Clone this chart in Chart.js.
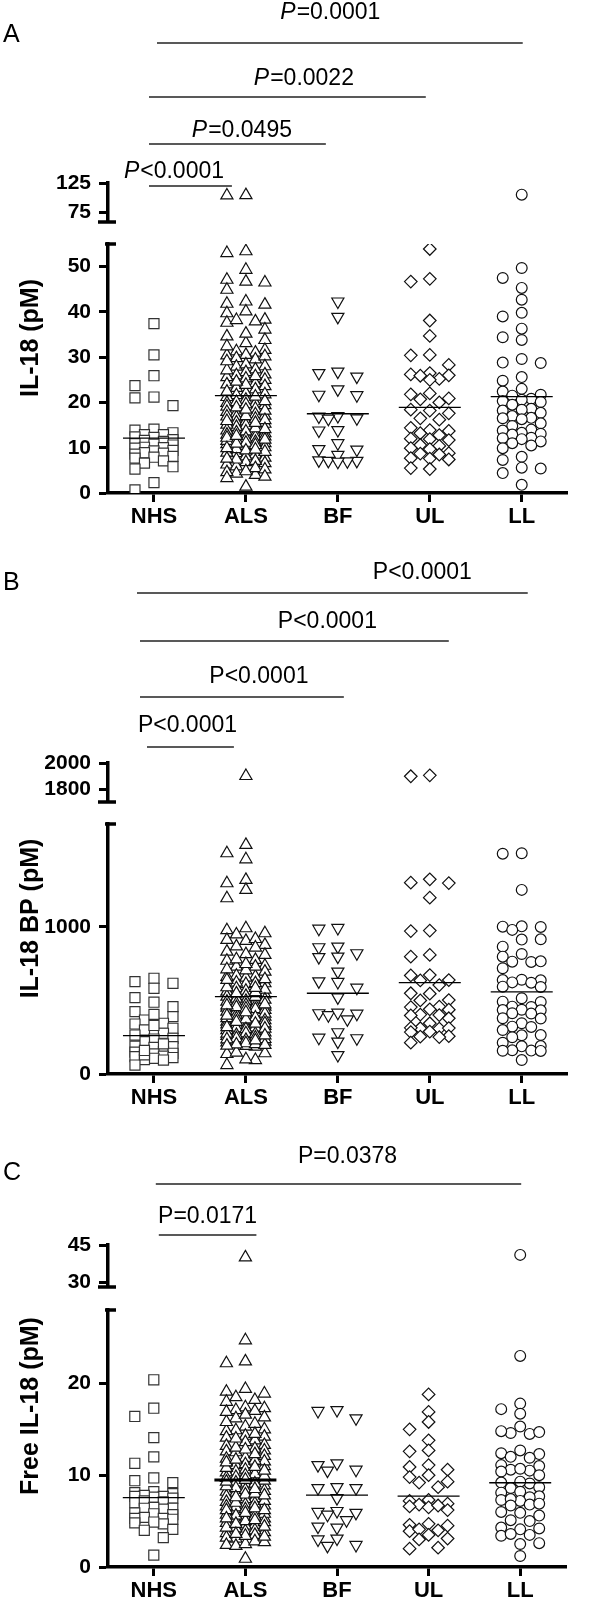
<!DOCTYPE html>
<html>
<head>
<meta charset="utf-8">
<script src="https://cdn.jsdelivr.net/npm/chart.js@4.4.1/dist/chart.umd.min.js"></script>
<style>
html,body{margin:0;padding:0;background:#fff;}
#wrap{position:relative;width:600px;height:1602px;background:#fff;overflow:hidden;}
#wrap canvas{position:absolute;left:0;}
</style>
</head>
<body>
<div id="wrap">
<canvas id="cA" width="600" height="531" style="top:0px;width:600px;height:531px"></canvas>
<canvas id="cB" width="600" height="580" style="top:531px;width:600px;height:580px"></canvas>
<canvas id="cC" width="600" height="491" style="top:1111px;width:600px;height:491px"></canvas>
</div>
<script>
// ---------------- DATA ----------------
const categories = ['NHS', 'ALS', 'BF', 'UL', 'LL'];

// Panel A : IL-18 (pM)
const A_NHS = [37.4, 30.5, 25.9, 23.7, 21.2, 21.0, 19.3, 14.1, 13.9, 13.3, 12.9, 12.9, 12.4, 12.3, 11.8, 11.6, 11.4, 10.9, 10.8, 10.6, 10.1, 10.0, 9.9, 9.4, 9.3, 8.9, 8.8, 8.6, 8.1, 7.9, 7.7, 7.1, 6.6, 5.8, 5.3, 2.3, 0.7];
const A_ALS = [104.2, 103.6, 53.4, 53.0, 49.3, 46.7, 46.5, 47.1, 44.9, 42.3, 41.6, 41.8, 40.1, 39.7, 38.3, 37.9, 37.6, 38.2, 36.1, 34.6, 33.8, 33.1, 31.6, 31.0, 31.3, 30.5, 30.4, 29.5, 29.8, 30.2, 28.0, 27.3, 27.9, 28.4, 26.7, 26.0, 25.3, 26.2, 25.6, 25.0, 24.2, 23.6, 24.0, 23.2, 22.9, 22.0, 21.6, 21.8, 21.2, 20.6, 19.8, 19.4, 19.9, 19.1, 18.6, 17.9, 17.4, 17.6, 17.1, 16.7, 15.6, 15.3, 15.8, 14.9, 14.6, 13.4, 13.0, 13.2, 12.7, 12.3, 11.0, 10.8, 11.3, 10.4, 10.1, 8.8, 8.5, 8.9, 8.1, 7.8, 6.6, 6.3, 6.8, 5.9, 4.3, 4.0, 4.6, 1.4, 21.3, 20.1, 18.9, 18.2, 17.0, 16.4, 16.1, 15.1, 14.3, 13.8, 13.6, 12.9, 12.5, 12.0, 11.7, 11.5, 11.1, 10.6, 9.7, 9.4, 9.1, 22.4, 23.9, 25.8, 27.1, 20.3, 19.6, 16.9, 15.5, 14.1, 12.2, 11.8, 10.9, 9.9, 7.4, 7.1, 5.5, 5.2, 4.8, 3.6, 3.3, 24.6, 29.1, 32.4, 35.2, 12.6, 15.9, 18.4, 7.6, 9.6];
const A_BF = [42.3, 38.9, 26.8, 26.5, 25.7, 22.9, 21.7, 21.6, 17.0, 16.9, 16.5, 16.4, 13.9, 13.8, 11.0, 9.7, 9.6, 8.4, 7.1, 7.0, 7.2, 7.1, 6.9];
const A_UL = [53.9, 47.3, 46.7, 38.1, 34.7, 30.5, 30.4, 28.3, 26.5, 26.2, 25.9, 26.0, 25.2, 25.0, 22.0, 21.8, 20.9, 20.7, 20.0, 18.4, 18.2, 17.6, 16.5, 16.2, 14.4, 13.9, 13.7, 13.2, 12.8, 12.0, 11.9, 11.7, 10.6, 10.4, 9.9, 9.7, 8.8, 8.7, 8.5, 7.7, 7.6, 7.4, 5.5, 5.3];
const A_LL = [105.0, 49.7, 47.5, 45.3, 42.7, 39.8, 39.0, 36.3, 34.4, 33.8, 29.6, 28.8, 28.7, 25.6, 24.8, 23.0, 22.4, 21.7, 21.5, 20.8, 20.6, 20.3, 20.1, 19.5, 18.6, 18.4, 18.2, 17.7, 17.0, 16.6, 16.5, 16.3, 15.4, 14.8, 14.0, 13.8, 13.3, 13.1, 12.9, 12.2, 12.1, 11.9, 11.4, 11.0, 10.5, 9.9, 8.0, 7.3, 5.6, 5.4, 4.4, 1.8];
const A_means = [12.1, 21.5, 17.5, 18.9, 21.3];
const A_mainTicks = [0, 10, 20, 30, 40, 50];
const A_breakTicks = [75, 125];
const A_pLabels = ['P=0.0001', 'P=0.0022', 'P=0.0495', 'P<0.0001'];
const A_pFrom = ['NHS', 'NHS', 'NHS', 'NHS'];
const A_pTo = ['LL', 'UL', 'BF', 'ALS'];

// Panel B : IL-18 BP (pM)
const B_NHS = [651, 628, 617, 583, 519, 488, 458, 424, 390, 367, 345, 340, 311, 299, 277, 243, 238, 220, 186, 190, 181, 152, 148, 141, 137, 122, 118, 107, 112, 95, 98, 61, 130, 160, 205, 265, 330, 405];
const B_ALS = [1900, 1558, 1501, 1460, 1320, 1297, 1252, 1195, 991, 978, 957, 949, 912, 905, 918, 878, 832, 810, 815, 776, 770, 730, 736, 696, 662, 668, 655, 617, 612, 622, 583, 560, 566, 526, 531, 492, 488, 497, 458, 452, 424, 418, 429, 390, 395, 356, 350, 361, 322, 327, 288, 283, 293, 254, 259, 220, 215, 226, 186, 191, 141, 136, 146, 95, 100, 61, 541, 512, 478, 470, 463, 441, 436, 410, 402, 384, 377, 371, 366, 344, 338, 333, 316, 311, 305, 299, 277, 272, 266, 248, 243, 238, 232, 209, 203, 198, 780, 574, 868, 661, 455, 525, 618, 712, 506, 445, 380, 342, 309, 274, 236, 201, 466, 730, 590, 548, 474, 420, 397, 355, 319, 262, 228, 193, 557, 585, 645, 705, 748, 860, 640];
const B_BF = [993, 988, 866, 862, 821, 798, 795, 696, 630, 626, 587, 521, 413, 400, 417, 410, 372, 284, 243, 247, 220, 129];
const B_UL = [1905, 1898, 1301, 1324, 1298, 1199, 975, 972, 798, 810, 673, 670, 639, 636, 605, 549, 546, 503, 500, 458, 455, 440, 437, 401, 404, 398, 379, 345, 311, 314, 309, 312, 288, 285, 254, 257, 251, 213];
const B_LL = [1501, 1498, 1252, 1002, 1000, 1004, 980, 916, 914, 866, 816, 798, 764, 762, 766, 719, 639, 641, 637, 621, 623, 594, 592, 515, 492, 490, 458, 456, 435, 437, 433, 413, 411, 379, 377, 345, 322, 320, 299, 265, 263, 250, 213, 190, 188, 159, 161, 157, 158, 95];
const B_means = [261, 526, 549, 621, 558];
const B_mainTicks = [0, 1000];
const B_breakTicks = [1800, 2000];
const B_pLabels = ['P<0.0001', 'P<0.0001', 'P<0.0001', 'P<0.0001'];
const B_pFrom = ['NHS', 'NHS', 'NHS', 'NHS'];
const B_pTo = ['LL', 'UL', 'BF', 'ALS'];

// Panel C : Free IL-18 (pM)
const C_NHS = [20.4, 17.3, 16.4, 14.1, 12.0, 11.3, 9.7, 9.4, 9.2, 8.1, 8.0, 8.2, 7.7, 7.6, 7.8, 7.5, 7.7, 7.1, 7.0, 7.2, 6.4, 6.3, 6.5, 6.4, 5.8, 5.9, 5.7, 5.3, 5.2, 5.4, 5.3, 4.8, 4.7, 4.9, 4.0, 4.1, 3.2, 1.3];
const C_ALS = [40.0, 24.7, 22.4, 22.2, 19.1, 18.9, 18.2, 18.0, 17.3, 17.4, 17.1, 17.0, 16.2, 16.3, 15.3, 14.9, 14.8, 15.0, 14.2, 14.1, 14.3, 13.3, 13.2, 12.6, 12.5, 12.7, 11.8, 11.9, 11.1, 11.0, 11.2, 10.4, 10.3, 9.7, 9.6, 9.8, 8.9, 9.0, 8.2, 8.1, 8.3, 7.5, 7.4, 6.8, 6.7, 6.9, 6.0, 6.1, 5.3, 5.2, 5.4, 4.6, 4.5, 3.8, 3.7, 3.9, 3.1, 3.2, 2.4, 2.3, 2.5, 0.9, 12.1, 11.5, 10.8, 10.1, 9.4, 9.2, 8.6, 8.4, 7.9, 7.7, 7.1, 6.5, 6.3, 5.8, 5.6, 5.0, 4.8, 4.2, 4.0, 3.5, 13.8, 12.9, 11.6, 10.6, 9.9, 9.1, 8.8, 7.2, 6.6, 5.9, 5.5, 4.9, 4.3, 3.4, 2.8, 2.7, 15.8, 16.6, 13.6, 12.3, 10.9, 10.0, 8.0, 7.0, 6.4, 5.7, 4.7, 3.3, 19.4, 18.5, 15.6, 14.5, 13.0, 11.4, 9.5, 8.5, 7.6, 6.2, 5.1, 4.4, 16.9, 14.0, 12.8, 11.7, 10.5, 9.3, 7.8, 6.2, 5.3, 3.6];
const C_BF = [17.1, 17.0, 16.2, 11.3, 11.1, 10.6, 10.5, 8.7, 8.6, 8.6, 7.5, 6.0, 6.1, 5.9, 5.7, 5.1, 4.4, 4.3, 3.1, 3.0, 2.4, 2.3];
const C_UL = [18.8, 16.9, 15.8, 15.0, 13.8, 12.7, 12.6, 11.1, 10.9, 10.6, 10.0, 9.8, 9.3, 9.2, 8.7, 7.3, 7.2, 6.9, 6.8, 6.6, 6.5, 6.7, 6.2, 4.6, 4.5, 4.7, 4.0, 3.9, 4.1, 3.5, 3.0, 3.1, 2.0, 2.1];
const C_LL = [41.0, 23.0, 17.8, 17.2, 16.7, 15.3, 14.6, 14.5, 14.7, 14.8, 12.7, 12.4, 12.3, 12.0, 11.9, 11.1, 11.0, 10.6, 10.5, 10.7, 10.4, 10.0, 9.2, 9.1, 9.3, 8.7, 8.6, 8.2, 8.1, 7.7, 7.6, 7.3, 7.2, 7.4, 6.8, 6.7, 6.9, 6.0, 5.9, 5.6, 5.1, 5.0, 4.2, 4.1, 4.3, 3.5, 3.4, 3.6, 2.6, 2.5, 1.2];
const C_means = [7.55, 9.48, 7.84, 7.73, 9.18];
const C_mainTicks = [0, 10, 20];
const C_breakTicks = [30, 45];
const C_pLabels = ['P=0.0378', 'P=0.0171'];
const C_pFrom = ['NHS', 'NHS'];
const C_pTo = ['LL', 'ALS'];

// ---------------- STYLE / LAYOUT ----------------
const FONT = "'Liberation Sans', Arial, Helvetica, sans-serif";
const STYLES = [
  {pointStyle: 'rect', radius: 7.1, rotation: 0, color: '#333'},
  {pointStyle: 'triangle', radius: 7, rotation: 0, color: '#111'},
  {pointStyle: 'triangle', radius: 7, rotation: 180, color: '#111'},
  {pointStyle: 'rectRot', radius: 6.3, rotation: 0, color: '#111'},
  {pointStyle: 'circle', radius: 5.4, rotation: 0, color: '#111'}
];
const SLOT_ORDER = [0, -2, 2, -1, 1];

const PANELS = [
  { id: 'cA', letter: 'A', title: 'IL-18 (pM)', italicP: true,
    groups: [A_NHS, A_ALS, A_BF, A_UL, A_LL], means: A_means, mainTicks: A_mainTicks, breakTicks: A_breakTicks,
    pLabels: A_pLabels, pFrom: A_pFrom, pTo: A_pTo,
    L: { canvasH: 531, chartTop: 183, chartBottom: 493, wTop: 39, wGap: 22, wMain: 249,
         mainMax: 55, topMin: 58, topMax: 125, letterY: 35,
         lineY: [43, 97, 144, 186], textY: [13, 79, 131, 172],
         lineDx: [[3, 1], [-5, -4], [-5, -12], [-5, -14]], textDx: [-10, 16, 4, -17],
         meanWidths: [1.3, 1.3, 1.3, 1.3, 1.3] } },
  { id: 'cB', letter: 'B', title: 'IL-18 BP (pM)', italicP: false,
    groups: [B_NHS, B_ALS, B_BF, B_UL, B_LL], means: B_means, mainTicks: B_mainTicks, breakTicks: B_breakTicks,
    pLabels: B_pLabels, pFrom: B_pFrom, pTo: B_pTo,
    L: { canvasH: 580, chartTop: 232, chartBottom: 543, wTop: 39, wGap: 22, wMain: 250,
         mainMax: 1700, topMin: 1700, topMax: 2000, letterY: 52,
         lineY: [62, 110, 166, 216], textY: [42, 91, 146, 195],
         lineDx: [[-17, 6], [-14, 19], [-14, 6], [-7, -12]], textDx: [90, 33, 17, -3],
         meanWidths: [1.3, 1.3, 1.3, 1.3, 1.3] } },
  { id: 'cC', letter: 'C', title: 'Free IL-18 (pM)', italicP: false,
    groups: [C_NHS, C_ALS, C_BF, C_UL, C_LL], means: C_means, mainTicks: C_mainTicks, breakTicks: C_breakTicks,
    pLabels: C_pLabels, pFrom: C_pFrom, pTo: C_pTo,
    L: { canvasH: 491, chartTop: 134, chartBottom: 456, wTop: 42, wGap: 23, wMain: 257,
         mainMax: 28, topMin: 28, topMax: 45, letterY: 62,
         lineY: [73, 124], textY: [46, 106],
         lineDx: [[2, 1], [5, 11]], textDx: [9, 0],
         meanWidths: [1.3, 3, 1.3, 1.3, 1.3] } }
];

function makeDeco(P) {
  const L = P.L;
  return {
    id: 'deco' + P.letter,
    afterDraw(chart) {
      const ctx = chart.ctx, xs = chart.scales.x, yM = chart.scales.y, yT = chart.scales.yTop;
      ctx.save();
      ctx.fillStyle = '#000'; ctx.strokeStyle = '#000';
      ctx.font = '25px ' + FONT; ctx.textAlign = 'left'; ctx.textBaseline = 'middle';
      ctx.fillText(P.letter, 3, L.letterY);
      const reg = '23px ' + FONT, ita = 'italic 23px ' + FONT;
      P.pLabels.forEach((lab, i) => {
        const x1 = xs.getPixelForValue(categories.indexOf(P.pFrom[i]) + 1) + L.lineDx[i][0];
        const x2 = xs.getPixelForValue(categories.indexOf(P.pTo[i]) + 1) + L.lineDx[i][1];
        ctx.lineWidth = 1.3; ctx.strokeStyle = '#222';
        ctx.beginPath(); ctx.moveTo(x1, L.lineY[i]); ctx.lineTo(x2, L.lineY[i]); ctx.stroke();
        const cx = (x1 + x2) / 2 + L.textDx[i];
        if (P.italicP && lab[0] === 'P') {
          ctx.font = ita; const w1 = ctx.measureText('P').width;
          ctx.font = reg; const w2 = ctx.measureText(lab.slice(1)).width;
          const sx = cx - (w1 + w2) / 2;
          ctx.textAlign = 'left';
          ctx.font = ita; ctx.fillText('P', sx, L.textY[i]);
          ctx.font = reg; ctx.fillText(lab.slice(1), sx + w1 + 1, L.textY[i]);
        } else {
          ctx.font = reg; ctx.textAlign = 'center';
          ctx.fillText(lab, cx, L.textY[i]);
        }
      });
      // break caps on the y axis
      const ax = chart.chartArea.left;
      ctx.strokeStyle = '#000'; ctx.lineWidth = 3.5;
      ctx.beginPath(); ctx.moveTo(ax - 10, yT.bottom); ctx.lineTo(ax + 8, yT.bottom); ctx.stroke();
      ctx.beginPath(); ctx.moveTo(ax - 3, yM.top); ctx.lineTo(ax + 8, yM.top); ctx.stroke();
      ctx.restore();
    }
  };
}

function swarmSlots(pys, stepPx, W, H) {
  const idx = pys.map((_, i) => i).sort((a, b) => pys[a] - pys[b]);
  const placed = [];
  const slots = new Array(pys.length).fill(0);
  for (const i of idx) {
    const py = pys[i];
    let best = SLOT_ORDER[0], bestCost = Infinity;
    for (const s of SLOT_ORDER) {
      let cost = 0;
      for (const p of placed) {
        const ox = W - Math.abs((s - p.s) * stepPx);
        const oy = H - Math.abs(py - p.y);
        if (ox > 0 && oy > 0) cost += ox * oy;
      }
      if (cost === 0) { best = s; bestCost = 0; break; }
      if (cost < bestCost) { bestCost = cost; best = s; }
    }
    placed.push({s: best, y: py});
    slots[i] = best;
  }
  return slots;
}

function buildPanel(P) {
  const L = P.L;
  const datasets = [];
  datasets.push({
    label: 'mean', xAxisID: 'x', yAxisID: 'y', order: 0, showLine: false,
    data: P.means.map((m, g) => ({x: g + 1, y: m})),
    pointStyle: 'line', pointRadius: 31, pointHoverRadius: 31, pointRotation: 0,
    pointBorderWidth: L.meanWidths, pointHoverBorderWidth: L.meanWidths,
    pointBorderColor: '#000', pointBackgroundColor: '#000'
  });
  const groupSets = [];
  P.groups.forEach((vals, g) => {
    const st = STYLES[g];
    const mainVals = vals.filter(v => v <= L.mainMax);
    const topVals = vals.filter(v => v > L.mainMax);
    const common = {
      xAxisID: 'x', order: 1, showLine: false,
      pointStyle: st.pointStyle, pointRadius: st.radius, pointHoverRadius: st.radius,
      pointRotation: st.rotation, pointBorderColor: st.color, pointBackgroundColor: '#fff',
      pointBorderWidth: 1.2, pointHoverBorderWidth: 1.2
    };
    const iMain = datasets.length;
    datasets.push(Object.assign({label: categories[g], yAxisID: 'y', data: mainVals.map(v => ({x: g + 1, y: v}))}, common));
    const iTop = datasets.length;
    datasets.push(Object.assign({label: categories[g] + ' (break)', yAxisID: 'yTop', data: topVals.map(v => ({x: g + 1, y: v}))}, common));
    groupSets.push({g, iMain, iTop, mainVals, topVals});
  });

  const tickFont = {family: FONT, size: 21, weight: 'bold'};
  const grid = {display: true, drawOnChartArea: false, drawTicks: true, tickLength: 9, tickWidth: 3, tickColor: '#000'};
  const border = {display: true, width: 3.5, color: '#000'};
  const STACKW = 63, TITLEW = 45;
  const plain = v => String(v);

  const chart = new Chart(document.getElementById(P.id), {
    type: 'scatter',
    data: {datasets},
    plugins: [makeDeco(P)],
    options: {
      responsive: false, animation: false, devicePixelRatio: 1, events: [],
      layout: {padding: {top: L.chartTop, right: 25, bottom: 0, left: 0}},
      plugins: {legend: {display: false}, tooltip: {enabled: false}, title: {display: false}},
      scales: {
        x: {
          type: 'linear', position: 'bottom', min: 0.5, max: 5.5,
          afterBuildTicks: s => { s.ticks = categories.map((c, i) => ({value: i + 1})); },
          afterFit: s => { s.height = L.canvasH - L.chartBottom; },
          ticks: {callback: v => categories[Math.round(v) - 1], font: {family: FONT, size: 22, weight: 'bold'}, color: '#000', padding: 2, maxRotation: 0, autoSkip: false},
          grid: grid, border: border
        },
        yTitle: {
          type: 'linear', position: 'left', weight: 100, min: 0, max: 1,
          ticks: {display: false}, grid: {display: false}, border: {display: false},
          title: {display: true, text: P.title, color: '#000', font: {family: FONT, size: 25, weight: 'bold'}, padding: {top: 16, bottom: 0}},
          afterFit: s => { s.width = TITLEW; }
        },
        yTop: {
          type: 'linear', position: 'left', stack: 'ys', stackWeight: L.wTop, weight: 3,
          min: L.topMin, max: L.topMax,
          afterBuildTicks: s => { s.ticks = P.breakTicks.map(v => ({value: v})); },
          afterFit: s => { s.width = STACKW; },
          ticks: {callback: plain, font: tickFont, color: '#000', padding: 8, autoSkip: false},
          grid: grid, border: border
        },
        yGap: {
          type: 'linear', position: 'left', stack: 'ys', stackWeight: L.wGap, weight: 2, min: 0, max: 1,
          ticks: {display: false}, grid: {display: false}, border: {display: false},
          afterFit: s => { s.width = STACKW; }
        },
        y: {
          type: 'linear', position: 'left', stack: 'ys', stackWeight: L.wMain, weight: 1,
          min: 0, max: L.mainMax,
          afterBuildTicks: s => { s.ticks = P.mainTicks.map(v => ({value: v})); },
          afterFit: s => { s.width = STACKW; },
          ticks: {callback: plain, font: tickFont, color: '#000', padding: 8, autoSkip: false},
          grid: grid, border: border
        }
      }
    }
  });

  // spread the points of each column sideways (dot-plot layout), using the scales' pixels
  const xs = chart.scales.x, yM = chart.scales.y, yT = chart.scales.yTop;
  const unit = xs.getPixelForValue(2) - xs.getPixelForValue(1);
  const stepPx = 9.5;
  groupSets.forEach(gs => {
    const pys = gs.mainVals.map(v => yM.getPixelForValue(v)).concat(gs.topVals.map(v => yT.getPixelForValue(v)));
    const slots = swarmSlots(pys, stepPx, 11, 10);
    const nM = gs.mainVals.length;
    chart.data.datasets[gs.iMain].data = gs.mainVals.map((v, i) => ({x: gs.g + 1 + slots[i] * stepPx / unit, y: v}));
    chart.data.datasets[gs.iTop].data = gs.topVals.map((v, i) => ({x: gs.g + 1 + slots[nM + i] * stepPx / unit, y: v}));
  });
  chart.update('none');
  return chart;
}

PANELS.forEach(buildPanel);
</script>
</body>
</html>
